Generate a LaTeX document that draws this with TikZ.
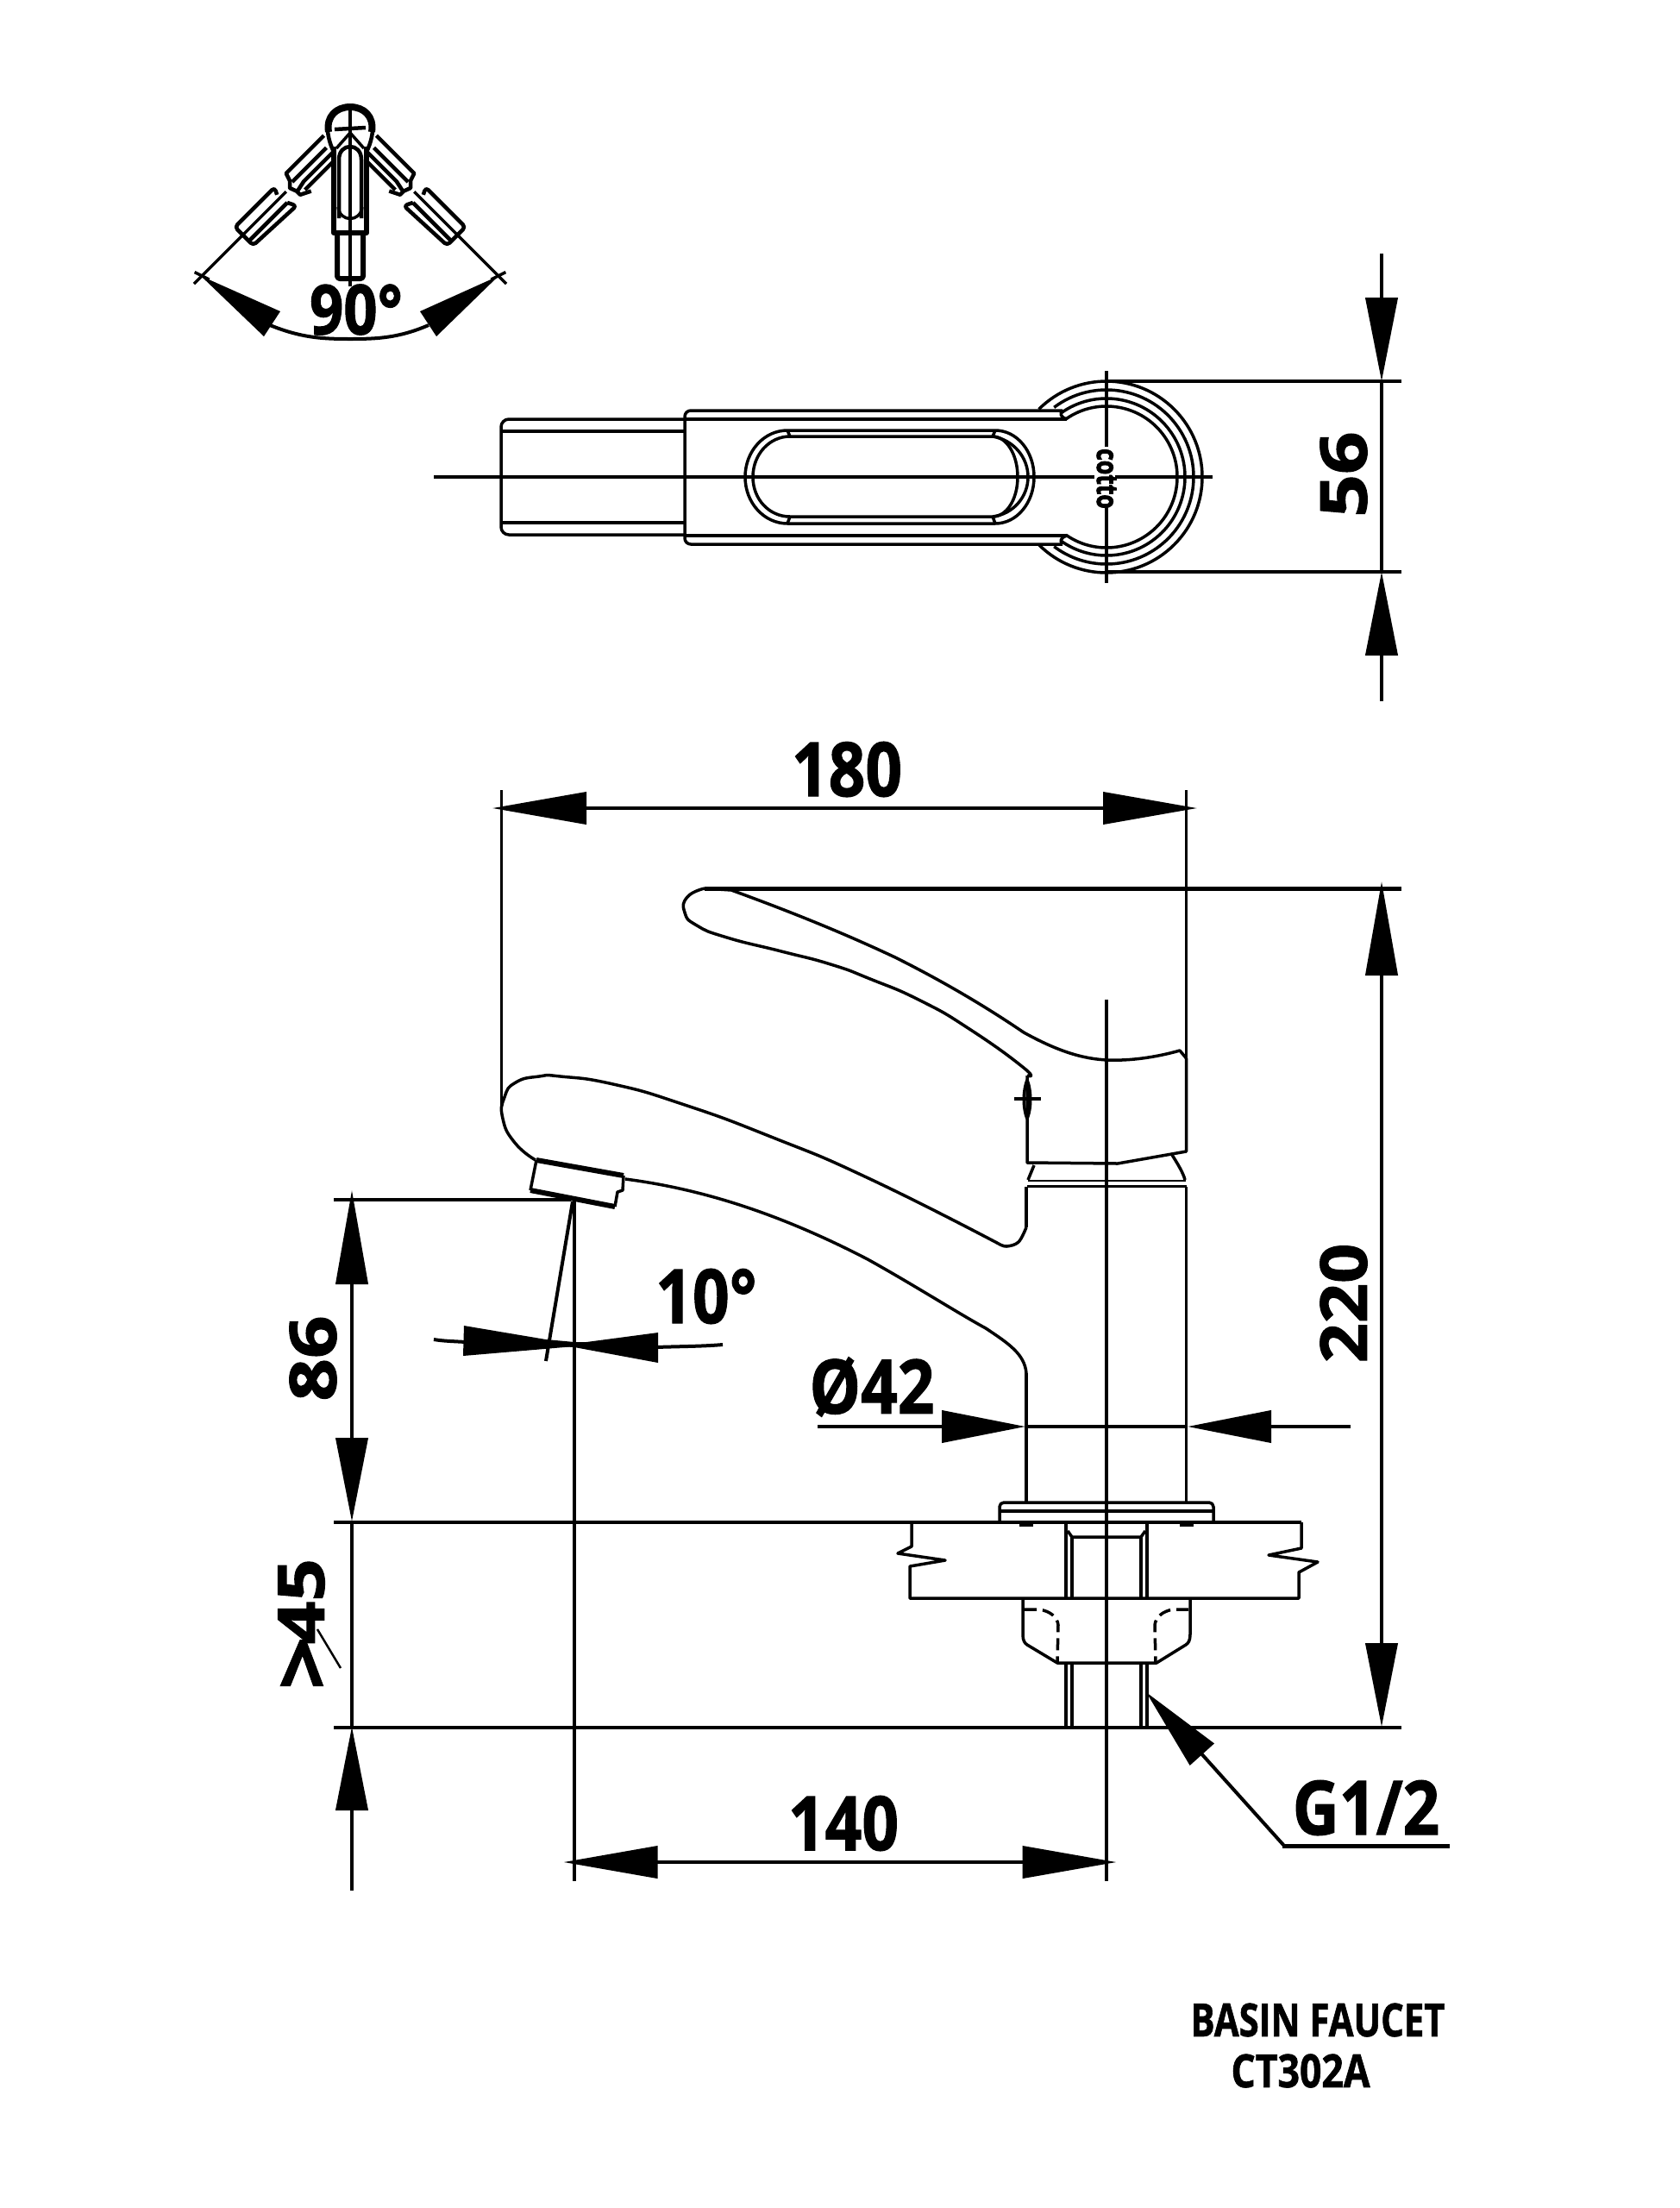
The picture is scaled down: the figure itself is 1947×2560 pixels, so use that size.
\documentclass[tikz,border=0pt]{standalone}
\usepackage{fontspec}
\setmainfont[BoldFeatures={FakeBold=1.4}]{Open Sans}
\newfontfamily\logofont[FakeBold=3]{Open Sans Bold}
\usetikzlibrary{arrows.meta}

% every coordinate below is a pixel of the sheet
\tikzset{
  obj/.style={line width=3.5pt, line join=round},
  heavy/.style={line width=6pt, line join=round},
  thin line/.style={line width=3.5pt},
  hidden/.style={line width=3.5pt, dash pattern=on 14pt off 7pt},
  dimline/.style={line width=4pt},
  shorthead/.style={>={Triangle[length=97pt,width=37pt]}},
  longhead/.style={>={Triangle[length=109pt,width=37pt]}},
  dimlabel/.style={font=\fontsize{87}{87}\selectfont\bfseries, inner sep=0pt, xscale=.86},
  titlelabel/.style={font=\fontsize{53}{53}\selectfont\bfseries, inner sep=0pt, xscale=.84}
}

% one lever position of the top sketch, drawn along +y from the hub
\newcommand{\leverarm}{%
  \draw[obj, line width=4.5pt] (-15,28) -- (-15,90) -- (-6,93) -- (0,99) -- (8,96) -- (14,96) -- (20,84);
  \draw[obj, line width=4.5pt] (14,40) -- (14,88);
  \draw[obj, line width=4.5pt] (-3,36) -- (-3,92);
  \draw[obj, line width=4.5pt] (6,34) -- (6,82) -- (9,96);
  \draw[obj, line width=4.5pt, rounded corners=4pt] (-5,115) -- (-13,111) -- (-13,176) -- (17,176) -- (20,108) -- (10,113);
  \draw[obj, line width=4.5pt] (10,113) -- (10,176);
  \draw[thin line] (0,105) -- (0,256);
  \draw[thin line] (-9,246) -- (9,240);
}

\begin{document}
\begin{tikzpicture}[x=1pt, y=-1pt]
\useasboundingbox (0,0) rectangle (1947,2560);

% ---- lever sweep, top left
\begin{scope}[shift={(406,148)}, rotate=-45]
  \leverarm
\end{scope}
\begin{scope}[shift={(406,148)}, rotate=45, xscale=-1]
  \leverarm
\end{scope}
\draw[heavy, line width=8pt] (381,153) .. controls (378,135) and (390,124) .. (406,124) .. controls (422,124) and (434,135) .. (431,153);
\draw[obj, line width=4.5pt] (380,152) .. controls (381,162) and (384,170) .. (387,176);
\draw[obj, line width=4.5pt] (432,152) .. controls (431,162) and (428,170) .. (425,176);
\draw[obj, line width=4.5pt] (388,150) -- (424,148);
\draw[obj] (406,154) -- (390,172);
\draw[obj] (406,154) -- (422,172);
\draw[heavy] (387,170) -- (387,270) -- (425,270) -- (425,170);
\draw[obj, line width=4.5pt] (393,253) -- (393,185) .. controls (393,165) and (419,165) .. (419,185) -- (419,253);
\draw[obj] (392,240) .. controls (394,258) and (418,258) .. (420,240);
\draw[heavy, rounded corners=3pt] (391,270) -- (391,323) -- (421,323) -- (421,270);
\draw[thin line] (406,120) -- (406,332);
\fill (233,320) -- (325,361) -- (306,390) -- cycle;
\fill (578,320) -- (487,361) -- (506,390) -- cycle;
\draw[dimline] (313,377) .. controls (350,392) and (375,393) .. (406,393) .. controls (437,393) and (462,392) .. (497,377);
\node[dimlabel, font=\fontsize{80}{80}\selectfont\bfseries] (lab90) at (413,359) {90°};

% ---- plan view
\draw[thin line] (503,553) -- (1269,553);
\draw[thin line] (1293,553) -- (1406,553);
\draw[thin line] (1283,430) -- (1283,518);
\draw[thin line] (1283,588) -- (1283,676);
\node[font=\fontsize{28}{28}\selectfont\logofont, inner sep=0pt, rotate=-90, yscale=1.2, xscale=.95] (logo) at (1283,555) {cotto};
\draw[obj, rounded corners=9pt] (793,486) -- (581,486) -- (581,620) -- (793,620);
\draw[obj] (582,500) -- (793,500);
\draw[obj] (582,606) -- (793,606);
\draw[obj, rounded corners=7pt] (1232,476) -- (794,476) -- (794,631) -- (1232,631);
\draw[obj] (794,486) -- (1237,486);
\draw[obj] (794,621) -- (1237,621);
\draw[obj] (1232,476) .. controls (1229,480) and (1229,483) .. (1237,486);
\draw[obj] (1232,631) .. controls (1229,627) and (1229,624) .. (1237,621);
\draw[obj] (913,499) -- (1154,499) .. controls (1179,499) and (1199,523) .. (1199,553) .. controls (1199,583) and (1179,607) .. (1154,607) -- (913,607) .. controls (886,607) and (864,583) .. (864,553) .. controls (864,523) and (886,499) .. (913,499) -- cycle;
\draw[obj] (916,506) -- (1151,506) .. controls (1167,506) and (1180,527) .. (1180,553) .. controls (1180,579) and (1167,599) .. (1151,599) -- (916,599) .. controls (892,599) and (873,579) .. (873,553) .. controls (873,527) and (892,506) .. (916,506) -- cycle;
\draw[obj] (1151,506) .. controls (1175,510) and (1192,530) .. (1192,553) .. controls (1192,576) and (1175,596) .. (1151,599);
\draw[obj] (913,499) -- (916,506);
\draw[obj] (913,607) -- (916,599);
\draw[obj] (1154,499) -- (1151,506);
\draw[obj] (1154,607) -- (1151,599);
\draw[obj] (1283,553) ++(135:111pt) arc[start angle=135, end angle=-135, radius=111pt];
\draw[obj] (1283,553) ++(127:101pt) arc[start angle=127, end angle=-127, radius=101pt];
\draw[obj] (1283,553) ++(126:91pt) arc[start angle=126, end angle=-126, radius=91pt];
\draw[obj] (1283,553) ++(125:82pt) arc[start angle=125, end angle=-125, radius=82pt];

% 56
\draw[dimline] (1283,442) -- (1625,442);
\draw[dimline] (1283,663) -- (1625,663);
\draw[dimline] (1602,294) -- (1602,345);
\draw[dimline, shorthead, ->] (1602,300) -- (1602,442);
\draw[dimline] (1602,442) -- (1602,663);
\draw[dimline, shorthead, ->] (1602,813) -- (1602,663);
\node[dimlabel, rotate=90] (lab56) at (1558,550) {56};

% ---- side view: lever handle
\draw[obj, line width=5pt] (817,1030) -- (1625,1030);
\draw[obj] plot[smooth, tension=.9] coordinates {(817,1030) (797,1040) (794,1058) (808,1073) (843,1087) (906,1103) (963,1118) (1009,1135) (1067,1160) (1124,1193) (1187,1238) (1191,1247)};
\draw[obj] (1191,1247) -- (1191,1348) -- (1296,1349) -- (1375.5,1335) -- (1375.5,1227);
\draw[obj] (1375.5,1227) -- (1368,1218) .. controls (1340,1226) and (1310,1230) .. (1285,1229) .. controls (1255,1228) and (1225,1218) .. (1187,1197) .. controls (1140,1165) and (1090,1136) .. (1038,1110) .. controls (985,1085) and (925,1060) .. (848,1032) -- (817,1030);
\draw[obj] (1191,1252) .. controls (1196,1265) and (1196,1285) .. (1191,1297);
\draw[obj] (1191,1252) .. controls (1186,1265) and (1186,1285) .. (1191,1297);
\draw[obj] (1176,1274) -- (1207,1274);
\draw[obj] (1199,1351) -- (1192,1368);
\draw[obj] (1359,1339) .. controls (1366,1350) and (1372,1360) .. (1374,1368);
\draw[line width=2.5pt] (1192,1369) -- (1375,1369);
\draw[obj] (1191,1375.5) -- (1375.5,1375.5);

% spout and body
\draw[obj] plot[smooth, tension=.9] coordinates {(621,1345) (597,1325) (583,1297) (585,1272) (598,1255) (625,1248) (650,1248) (711,1257) (791,1280) (894,1318) (1009,1367) (1158,1442)};
\draw[obj] plot[smooth, tension=.6] coordinates {(1158,1442) (1167,1445) (1181,1440) (1190,1423)};
\draw[obj] (1190,1423) -- (1190,1376);
\draw[obj] (725,1367) .. controls (810,1378) and (900,1405) .. (1006,1460) .. controls (1060,1490) and (1110,1522) .. (1143,1540) .. controls (1170,1558) and (1188,1570) .. (1190,1592);
\draw[obj] (1190,1592) -- (1190,1742);
\draw[obj] (1375.5,1376) -- (1375.5,1742);
\draw[obj] (622,1345) -- (615,1380);
\draw[obj] (723,1363) -- (722,1380) -- (716,1382) -- (713,1399);
\draw[heavy] (622,1345) -- (723,1363);
\draw[heavy] (615,1380) -- (713,1399);

% counter, flange, nut
\draw[obj, rounded corners=5pt] (1159,1765) -- (1159,1742) -- (1407,1742) -- (1407,1765);
\draw[obj] (1160,1752) -- (1406,1752);
\draw[obj] (387,1765) -- (1509,1765);
\draw[obj] (1057,1765) -- (1057,1793) -- (1041,1801) -- (1096,1809) -- (1055,1816) -- (1055,1853) -- (1506,1853) -- (1506,1823) -- (1528,1811) -- (1471,1803) -- (1509,1795) -- (1509,1765);
\draw[heavy] (1182,1767) -- (1198,1767);
\draw[heavy] (1368,1767) -- (1384,1767);
\draw[obj] (1236,1765) -- (1236,1853);
\draw[obj] (1330,1765) -- (1330,1853);
\draw[obj] (1238,1775) -- (1243,1782) -- (1323,1782) -- (1328,1775);
\draw[obj] (1243,1782) -- (1243,1853);
\draw[obj] (1323,1782) -- (1323,1853);
\draw[obj] (1186,1853) -- (1186,1895) .. controls (1186,1902) and (1188,1905) .. (1191,1907) -- (1226,1928) -- (1341,1928) -- (1375,1907) .. controls (1378,1905) and (1380,1902) .. (1380,1895) -- (1380,1853);
\draw[hidden] (1188,1866) -- (1205,1866) .. controls (1218,1868) and (1226,1875) .. (1227,1884) -- (1226,1928);
\draw[hidden] (1378,1866) -- (1360,1866) .. controls (1348,1868) and (1340,1875) .. (1339,1884) -- (1340,1928);
\draw[obj] (1236,1928) -- (1236,2002);
\draw[obj] (1243,1928) -- (1243,2002);
\draw[obj] (1323,1928) -- (1323,2002);
\draw[obj] (1330,1928) -- (1330,2002);

% ---- extension lines
\draw[thin line] (581.5,916) -- (581.5,1283);
\draw[thin line] (1375.5,916) -- (1375.5,1227);
\draw[thin line] (1283,1159) -- (1283,2181);
\draw[dimline] (387,1391) -- (662,1391);
\draw[dimline] (665.5,1391) -- (665.5,2181);
\draw[dimline] (387,2002.5) -- (1625,2002.5);

% 180
\draw[dimline, longhead, <->] (571,937) -- (1388,937);
\node[dimlabel] (lab180) at (982,892) {180};
% 220
\draw[dimline, longhead, ->] (1602,1200) -- (1602,1022);
\draw[dimline, shorthead, ->] (1602,1200) -- (1602,2002);
\node[dimlabel, rotate=90, xscale=.93] (lab220) at (1558,1511) {220};
% 86 and >45
\draw[dimline, longhead, ->] (408,1500) -- (408,1380);
\draw[dimline, shorthead, ->] (408,1500) -- (408,1764);
\draw[dimline] (408,1764) -- (408,2002);
\draw[dimline, shorthead, ->] (408,2192) -- (408,2002);
\node[dimlabel, rotate=90] (lab86) at (363,1575) {86};
\node[dimlabel, rotate=90] (lab45) at (353,1883) {\raisebox{-9pt}{\fontsize{108}{87}\selectfont >}\hspace{-9pt}45};
\draw[line width=2.5pt] (368,1889) -- (395,1934);
% 10 degrees
\draw[dimline] (664,1393) -- (633,1578);
\fill (538,1537) -- (633,1553) -- (666,1556) -- (666,1561) -- (537,1572) -- cycle;
\fill (763,1545) -- (680,1556) -- (630,1556) -- (630,1560) -- (666,1562) -- (763,1580) -- cycle;
\draw[dimline] (503,1553) .. controls (515,1555) and (525,1555) .. (540,1556);
\draw[dimline] (760,1562) .. controls (790,1561) and (815,1561) .. (838,1559);
\node[dimlabel] (lab10) at (819,1503) {10°};
% O42
\draw[dimline, shorthead, ->] (948,1654) -- (1189,1654);
\draw[dimline, shorthead, ->] (1566,1654) -- (1377,1654);
\draw[dimline] (1189,1654) -- (1377,1654);
\node[dimlabel] (lab42) at (1011,1608) {Ø42};
% 140
\draw[dimline, longhead, <->] (653.5,2159) -- (1294.5,2159);
\node[dimlabel] (lab140) at (978,2114) {140};
% G1/2
\draw[dimline, shorthead, ->] (1489,2140) -- (1329,1962);
\draw[dimline, line width=5pt] (1487,2140) -- (1681,2140);
\node[dimlabel] (labg) at (1584,2096) {G1/2};

\node[titlelabel, xscale=.94] (title) at (1528,2342) {BASIN FAUCET};
\node[titlelabel] (model) at (1508,2401) {CT302A};
\end{tikzpicture}
\end{document}
